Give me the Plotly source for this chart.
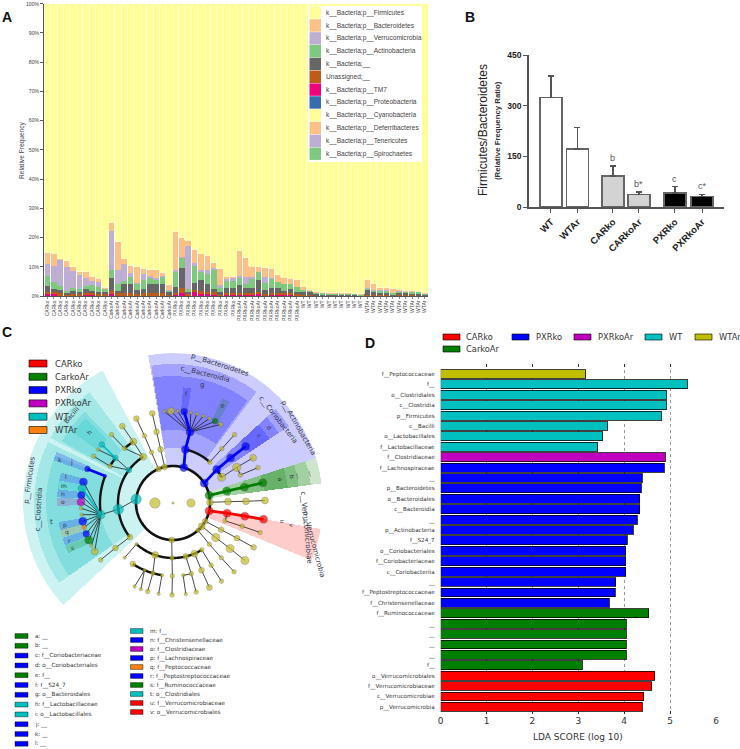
import numpy as np
import plotly.graph_objects as go

W_PX, H_PX = 740, 749
def fx(p): return p / W_PX
def fy(p): return 1 - p / H_PX

# ---------- Panel A data: cumulative tops of stacked phyla (%) ----------
groups = ["CARko", "CarkoAr", "PXRko", "PXRkoAr", "WT", "WTAr"]
sample_labels = [g for g in groups for _ in range(10)]
tm7_top = [.6,.8,.4,.2,.2,.1,.6,.5,.2,.1, .6,.4,.1,.1,.1,.4,.1,.1,.1,.1, .7,1.0,.2,1.3,.7,.8,.7,.2,.7,.7,
           .7,.6,.7,.9,.3,.5,.5,.5,.5,.3, .1,.1,0,0,0,0,0,0,0,0, .2,.1,.1,.1,0,0,0,0,0,0]
unassigned_top = [1.3,1.4,.9,.6,.8,.7,.9,.9,.7,.6, 1.8,1.0,.9,.9,.7,.9,.9,.9,1.1,.3, 1.0,2.7,.8,2.1,1.8,1.3,1.2,.7,1.0,1.0,
                  1.1,1.1,1.1,1.5,.8,1.0,1.1,.9,1.0,.7, .4,.3,.2,.1,.1,.1,.1,.1,.1,.1, .5,.3,.2,.2,.1,.2,.2,.2,.1,.1]
bacteria_top = [3.4,2.5,2.0,1.1,1.8,1.5,2.4,1.8,1.4,1.3, 6.1,1.8,4.2,4.2,2.2,2.4,4.2,4.2,4.2,1.2, 3.2,9.6,1.4,4.3,5.5,4.1,2.3,1.3,2.9,2.9,
                3.8,2.6,2.6,5.5,2.0,2.6,2.6,1.7,2.5,1.5, 1.4,1.2,.7,.6,.6,.6,.5,.5,.5,.4, 2.3,1.3,1.0,1.0,.7,1.1,1.0,.9,.6,.6]
actino_top = [6.8,4.9,3.5,1.8,2.9,2.5,3.5,3.6,3.1,2.6, 9.0,4.0,5.3,6.6,4.5,5.5,6.4,5.6,6.7,1.9, 8.6,13.3,2.4,10.3,8.3,7.6,9.2,3.0,5.0,5.2,
              6.6,4.1,5.7,8.3,4.6,6.0,4.7,4.0,4.2,3.0, 2.2,1.9,1.4,1.2,1.1,1.1,1.0,1.0,.9,.6, 2.7,2.0,1.9,2.0,.9,1.8,1.7,1.5,1.5,1.0]
verruco_top = [10.8,10.4,12.7,10.0,8.7,7.3,6.3,5.2,4.9,2.8, 22.2,9.0,10.9,8.0,4.6,7.6,6.7,6.0,7.0,2.0, 9.0,13.4,17.1,11.3,9.0,8.8,9.7,3.6,6.2,6.3,
               6.7,6.6,6.6,8.3,6.6,6.2,4.7,4.0,4.2,3.0, 2.2,1.9,1.4,1.2,1.1,1.1,1.0,1.0,.9,.6, 2.8,2.1,2.0,2.1,.9,1.9,1.8,1.6,1.6,1.0]
bacteroid_top = [14.9,14.7,12.8,12.0,10.0,8.3,8.3,6.8,6.0,3.0, 25.3,18.5,12.8,10.3,10.0,9.5,8.9,8.9,8.2,3.9, 22.2,20.0,19.0,16.0,14.6,13.8,11.4,9.4,6.8,6.8,
                 15.5,13.1,10.1,10.0,9.6,9.5,7.2,6.4,6.0,5.7, 3.4,2.3,1.5,1.3,1.2,1.2,1.1,1.1,1.0,.7, 5.8,4.3,2.9,2.9,2.7,2.3,2.0,2.0,1.7,1.1]
stack_names = ["k__Bacteria;p__TM7", "Unassigned;__", "k__Bacteria;__", "k__Bacteria;p__Actinobacteria",
               "k__Bacteria;p__Verrucomicrobia", "k__Bacteria;p__Bacteroidetes"]
stack_colors = ["#f0027f", "#bf5b17", "#666666", "#7fc97f", "#beaed4", "#fdc086"]
legend_a_labels = ["k__Bacteria;p__Firmicutes", "k__Bacteria;p__Bacteroidetes", "k__Bacteria;p__Verrucomicrobia",
                   "k__Bacteria;p__Actinobacteria", "k__Bacteria;__", "Unassigned;__", "k__Bacteria;p__TM7",
                   "k__Bacteria;p__Proteobacteria", "k__Bacteria;p__Cyanobacteria", "k__Bacteria;p__Deferribacteres",
                   "k__Bacteria;p__Tenericutes", "k__Bacteria;p__Spirochaetes"]
legend_a_colors = ["#ffff99", "#fdc086", "#beaed4", "#7fc97f", "#666666", "#bf5b17", "#f0027f", "#386cb0",
                   "#ffff99", "#fdc086", "#beaed4", "#7fc97f"]

# ---------- Panel B data ----------
ratio_names = ["WT", "WTAr", "CARko", "CARkoAr", "PXRko", "PXRkoAr"]
ratio_mean = [324, 171, 92, 37.5, 42, 30.6]
ratio_top = [388, 235, 122, 45, 60, 37.5]
ratio_slot = [0, 1, 2.34, 3.32, 4.68, 5.7]
ratio_fill = ["white", "white", "#d3d3d3", "#d3d3d3", "black", "black"]
ratio_marks = ["", "", "b", "b*", "c", "c*"]

# ---------- Panel D data ----------
lda_names = ["f__Peptococcaceae","f__","o__Clostridiales","c__Clostridia","p__Firmicutes","c__Bacilli","o__Lactobacillales",
 "f__Lactobacillaceae","f__Clostridiaceae","f__Lachnospiraceae","__","p__Bacteroidetes","o__Bacteroidales","c__Bacteroidia","__",
 "p__Actinobacteria","f__S24_7","o__Coriobacteriales","f__Coriobacteriaceae","c__Coriobacteriia","__","f__Peptostreptococcaceae",
 "f__Christensenellaceae","f__Ruminococcaceae","__","__","__","__","f__","o__Verrucomicrobiales","f__Verrucomicrobiaceae",
 "c__Verrucomicrobiae","p__Verrucomicrobia"]
lda_values = [3.16,5.37,4.92,4.92,4.81,3.64,3.53,3.42,4.89,4.87,4.39,4.37,4.34,4.34,4.28,4.2,4.07,4.03,4.03,4.03,3.82,3.8,3.67,
 4.53,4.04,4.04,4.04,4.04,3.09,4.66,4.6,4.42,4.39]
lda_group = ["Y"]+["W"]*7+["M"]+["P"]*14+["G"]*6+["R"]*4
clade_color = {"R":"#ff0000","G":"#007f00","P":"#0000ff","M":"#bf00bf","W":"#00bfbf","O":"#ff7f0e","Y":"#bfbf00"}
node_color = dict(clade_color, Y="#c4bc28")

# ---------- Panel C data: cladogram (theta in degrees, one list per ring) ----------
ring_radius = [18, 37, 55, 73, 92]
r0_theta = [180, 0]; r0_size = [9, 7]; r0_clade = "YY"
r1_theta = [174.2,113,103,73,32.4,11.9,1,-12.4,-29.3,-38.9,-47.5,268]
r1_size = [9,5,5,7,7,7,6,7,5,6,4,5]
r1_clade = "WYYPPGYRYYYY"
r2_theta = [186.6,143.2,123,218.2,113,103,77,48,37.4,27.8,12.5,1.4,-10.7,-18.9,-29,-39,-48.6,-58.4,-67,-76.5,269,251,228.4]
r2_size = [9,5,6,5,4,5,7,4,7,7,7,6,7,4,5,7,4,4,6,5,4,6,3]
r2_clade = "WWYYYYPYPYGYRYYYYYYYYYY"
r2_parent = [174.2,None,None,None,113,103,73,None,32.4,None,11.9,1,-12.4,None,-29.3,-38.9,-47.5,None,None,None,268,None,None]
r3_theta = [189.2,158.3,142,149.6,131.5,122.9,113,103,218,76.5,48,38,29.2,22.6,12.5,1.3,-10.4,-18.6,-28.8,-38.6,-48.6,-58.5,-67,-75.5,-82,269.5,261.3,254,247,236.6,228.5]
r3_size = [7,3,5,4,4,6,4,5,5,7,4,7,7,4,7,6,7,4,5,7,4,4,5,4,3,4,3,4,3,5,3]
r3_clade = "WPWYYYYYYPYPYYGYRYYYYYYYYYYYYYY"
r3_parent = [186.6,None,143.2,143.2,123,123,113,103,218.2,77,48,37.4,27.8,None,12.5,1.4,-10.7,-18.9,-29,-39,-48.6,-58.4,-67,-76.5,None,269,None,251,None,None,228.4]
r4_theta = [158.3,166.8,171,175.2,179.4,183.3,187.3,191.5,195.3,199.5,203.7,207.6,211.7,218.2,140.6,144.5,149.5,132,123.4,113.4,103,
            95.4,91.2,87,83,78.9,75,70.8,66.7,62.8,58.7,48,37.9,29.4,22.6,12.7,1.6,-10.2,-18.7,-28.8,-38.6,-48.4,-58.2,-66.7,-75.4,-82,269.4,261,254,249.6,245.3,236.8,228.2]
r4_size = [5,7,7,6.5,7,3,3,7,4,6,7,3,6,4,5,3,4,4,5,5,5,3,6,3,6,3,3,3,3,5,4,4,7,6,4,7,6,7,4,5,7,4,4,5,4,3,4,3,4,3,3,5,3]
r4_clade = "PPWPMYYPOPGYYYWYYYYYYYYYPYYYYGYYPYYGYRYYYYYYYYYYYYY"
r4_parent = [158.3]+[189.2]*12+[218,142,142,149.6,131.5,122.9,113,103]+[76.5]*10+[48,38,29.2,22.6,12.5,1.3,-10.4,-18.6,-28.8,-38.6,-48.6,-58.5,-67,-75.5,-82,269.5,261.3,254,247,247,236.6,228.5]
arc_ring = [2,2,2,2,3,3,3,3]
arc_start = [123,48,27.8,228.4,122.9,158.3,236.6,142]
arc_end = [218.2,77,37.4,301.6,131.5,189.2,261.3,149.6]
thin_arc_ring = [2,3,3]
thin_arc_start = [-18.9,22.6,-82]
thin_arc_end = [-10.7,29.2,-75.5]
wedge_start = [118,127,154,134,136,158, 43,53,54, 17.5,33.5,33.5,33.5, 7.5,7.5,7.5,7.5, -22.5,
               156.3,164.8,169,173.2,177.4,189.5,193.3,197.5,201.7, 81,60.8, 156.3, 60.8]
wedge_end = [223,152,215,151,145,215, 99.5,99,99, 43,42.5,42.5,42.5, 17.5,17.5,17.5,17.5, -10,
             160.3,168.8,173,177.2,181.4,193.5,197.3,201.5,205.7, 85,64.8, 160.3, 64.8]
wedge_inner = [37,55,55,73,92,73, 37,55,73, 37,55,73,92, 37,55,73,92, 37,
               92,92,92,92,92,92,92,92,92, 92,92, 116, 116]
wedge_outer = [150,139,139,127,122,127, 150,139,127, 150,139,127,116, 150,139,127,116, 150,
               116,116,116,116,116,116,116,116,116, 116,116, 127, 116]
wedge_clade = list("WWWWWW"+"PPP"+"PPPP"+"GGGG"+"R"+"PPWPMPOPG"+"PG"+"P"+"G")
wedge_labels = [("p__Firmicutes",145,171,-82,7),("c__Clostridia",134,182.7,-87,7),("Bacilli",134,139,-50,6.5),("t",123,188.7,0,7),
 ("h",110,140,-50,6),("k",121,158.9,0,6),("j",110,158,0,6),("l",110,165.8,0,6),("m",110,171,0,6),("n",110,175,0,6),("o",110,179.3,0,6),
 ("p",110,191.6,0,6),("q",110,195.3,0,6),("r",110,199.8,0,6),("s",110,203.8,0,6),
 ("p__Bacteroidetes",146,71.2,18,7),("c__Bacteroidia",133,76.1,14,7),("g",121,76.3,0,7),("f",110,83,0,6),("e",110,62.7,25,6),
 ("p__Actinobacteria",146,30.8,60,7),("c__Coriobacteria",134,38.2,52,7),("d",122,38,50,6),("c",110,38,50,6),
 ("a",110.5,12.4,78,6),("b",122,12.4,78,6),("__",130,12.3,78,6),("__",143,12.2,78,6),("u",111,-9.8,100,6),("v",121,-10.6,100,6),
 ("c__Verrucomicrobiae",135,-10.4,85,7),("p__Verrucomicrobia",147,-16.6,75,7)]

legend_c_names = ["CARko","CarkoAr","PXRko","PXRkoAr","WT","WTAr"]
legend_c_keys = "RGPMWO"
key_col1 = ["a: __","b: __","c: f__Coriobacteriaceae","d: o__Coriobacteriales","e: f__","f: f__S24_7","g: o__Bacteroidales",
            "h: f__Lactobacillaceae","i: o__Lactobacillales","j: __","k: __","l: __"]
key_col1_c = "GGPPGPPWWPPP"
key_col2 = ["m: f__","n: f__Christensenellaceae","o: f__Clostridiaceae","p: f__Lachnospiraceae","q: f__Peptococcaceae",
            "r: f__Peptostreptococcaceae","s: f__Ruminococcaceae","t: o__Clostridiales","u: f__Verrucomicrobiaceae","v: o__Verrucomicrobiales"]
key_col2_c = "WPMPOPGWRR"

# ---------- Figure ----------
fig = go.Figure()
shapes, notes = [], []
def note(x, y, text, size, color="#333", family="DejaVu Sans", bold=False, angle=0, xa="left", ya="middle"):
    if bold: text = "<b>%s</b>" % text
    notes.append(dict(x=fx(x), y=fy(y), xref="paper", yref="paper", text=text, showarrow=False, textangle=angle,
                      xanchor=xa, yanchor=ya, font=dict(size=size, color=color, family=family), borderpad=0))
def rect(x0, y0, x1, y1, fill, line="rgba(0,0,0,0.6)", w=1, layer="above"):
    shapes.append(dict(type="rect", xref="paper", yref="paper", x0=fx(x0), x1=fx(x1), y0=fy(y0), y1=fy(y1),
                       fillcolor=fill, line=dict(color=line, width=w), layer=layer))

# Panel A
idx = list(range(len(sample_labels)))
tops = [tm7_top, unassigned_top, bacteria_top, actino_top, verruco_top, bacteroid_top]
prev = np.zeros(len(idx))
for name, col, t in zip(stack_names, stack_colors, tops):
    t = np.array(t, float)
    fig.add_bar(x=idx, y=np.maximum(t - prev, 0), marker=dict(color=col, line=dict(width=0)), width=0.88, name=name,
                xaxis="x", yaxis="y", showlegend=False)
    prev = np.maximum(t, prev)
fig.add_bar(x=idx, y=100 - prev, marker=dict(color="#ffff99", line=dict(width=0.8, color="#ffffd2")), width=1,
            name="k__Bacteria;p__Firmicutes", xaxis="x", yaxis="y", showlegend=False)

# Panel B
fig.add_bar(x=ratio_slot, y=ratio_mean, width=0.82, marker=dict(color=ratio_fill, line=dict(color="#666", width=1.5)),
            error_y=dict(type="data", symmetric=False, array=[t - m for t, m in zip(ratio_top, ratio_mean)],
                         arrayminus=[0]*6, color="#555", thickness=1.5, width=3),
            xaxis="x2", yaxis="y2", showlegend=False)
for s, t, m in zip(ratio_slot, ratio_top, ratio_marks):
    if m:
        notes.append(dict(x=s, y=t, xref="x2", yref="y2", text=m, showarrow=False, yanchor="bottom", yshift=1,
                          font=dict(size=9, color="#555", family="Liberation Sans")))

# Panel D
fig.add_bar(y=list(range(len(lda_values))), x=lda_values, orientation="h", width=0.85,
            marker=dict(color=[clade_color[g] for g in lda_group], line=dict(color="rgba(0,0,0,0.75)", width=1)),
            xaxis="x3", yaxis="y3", showlegend=False)

# Panel C: wedges (alpha-layered annular sectors)
for s, e, i, o, c in zip(wedge_start, wedge_end, wedge_inner, wedge_outer, wedge_clade):
    fig.add_trace(go.Barpolar(theta=[(s + e) / 2], width=[e - s], base=[i], r=[o - i],
                              marker=dict(color=clade_color[c], opacity=0.2, line=dict(width=0)), showlegend=False))

# Panel C: nodes and edges
rings = [(r1_theta, r1_size, r1_clade, [None]*12, r0_theta),
         (r2_theta, r2_size, r2_clade, r2_parent, r1_theta),
         (r3_theta, r3_size, r3_clade, r3_parent, r2_theta),
         (r4_theta, r4_size, r4_clade, r4_parent, r3_theta)]
parent_clade = {1: r1_clade, 2: r2_clade, 3: r3_clade}
ths, rs, szs, cols = [0] + list(r0_theta), [0] + [ring_radius[0]]*2, [2] + list(r0_size), ["Y"] + list(r0_clade)
edges = {}
for k, (thetas, sizes, clades, parents, up) in enumerate(rings, start=1):
    for th, sz, cl, par in zip(thetas, sizes, clades, parents):
        ths.append(th); rs.append(ring_radius[k]); szs.append(sz); cols.append(cl)
        if par is None: continue
        j = int(np.argmin(np.abs(np.array(up, float) - par)))
        pc = parent_clade[k-1][j] if k > 1 else "Y"
        if cl == pc and cl in "PGR":
            key = (clade_color[cl], 2.8)
        elif cl == pc and cl == "W" and k == 4:
            key = (clade_color[cl], 1.8)
        else:
            key = ("rgba(30,30,30,0.8)", 1)
        edges.setdefault(key, ([], []))
        edges[key][0].extend([ring_radius[k-1], ring_radius[k], None])
        edges[key][1].extend([up[j], th, None])

def arc_trace(ring, a, b, w):
    t = np.linspace(a, b, max(4, int(abs(b - a) * 2)))
    fig.add_trace(go.Scatterpolar(r=[ring_radius[ring]]*len(t), theta=t, mode="lines", line=dict(color="#111", width=w),
                                  showlegend=False, hoverinfo="skip"))
arc_trace(1, 0, 360, 2.6)
for rg, a, b in zip(arc_ring, arc_start, arc_end): arc_trace(rg, a, b, 2.4)
for rg, a, b in zip(thin_arc_ring, thin_arc_start, thin_arc_end): arc_trace(rg, a, b, 1)
for (col, w), (er, et) in edges.items():
    fig.add_trace(go.Scatterpolar(r=er, theta=et, mode="lines", line=dict(color=col, width=w), showlegend=False, hoverinfo="skip"))
fig.add_trace(go.Scatterpolar(r=rs, theta=ths, mode="markers", showlegend=False, hoverinfo="skip",
                              marker=dict(size=[s * 1.15 for s in szs], color=[node_color[c] for c in cols], line=dict(color="rgba(40,40,40,.6)", width=0.5))))

CX, CY, R = 173, 503, 150
for txt, r, th, rot, sz in wedge_labels:
    note(CX + r*np.cos(np.radians(th)), CY - r*np.sin(np.radians(th)), txt, sz, color="#334", angle=rot, xa="center")

# Panel A legend
rect(308, 6, 422, 162, "white", line="white", w=0)
for i, (lab, col) in enumerate(zip(legend_a_labels, legend_a_colors)):
    yc = 12.7 + 12.82*i
    rect(309.5, yc - 6.2, 321, yc + 6.2, col, line=col, w=0)
    note(325, yc, lab, 6.6, color="#444", family="Liberation Sans")

# Panel C top legend
for i, (lab, k) in enumerate(zip(legend_c_names, legend_c_keys)):
    yc = 363.5 + 13.3*i
    rect(29, yc - 3.5, 47, yc + 3.5, clade_color[k])
    note(54, yc, lab, 8.5, color="#333")
# Panel C key
for i, (lab, k) in enumerate(zip(key_col1, key_col1_c)):
    yc = 636 + 9.8*i
    rect(15, yc - 2.4, 28, yc + 2.4, clade_color[k], w=0.7)
    note(33.7, yc, lab, 5.7, color="#333")
for i, (lab, k) in enumerate(zip(key_col2, key_col2_c)):
    yc = 631 + 9*i
    rect(130.5, yc - 2.4, 143, yc + 2.4, clade_color[k], w=0.7)
    note(149, yc, lab, 5.7, color="#333")

# Panel D legend
d_leg = [("CARko","R",443,337),("CarkoAr","G",443,349),("PXRko","P",512,337),("PXRkoAr","M",574,337),("WT","W",645,337),("WTAr","Y",695,337)]
for lab, k, x, y in d_leg:
    rect(x, y - 3, x + 17, y + 3, clade_color[k])
    note(x + 22.5, y, lab, 8.3, color="#333")

# Panel letters and titles
for t, x, y in [("A", 1, 17), ("B", 464, 17), ("C", 1, 332), ("D", 364, 343)]:
    note(x, y, t, 14, color="#111", family="Liberation Sans", bold=True)
note(22, 150, "Relative Frequency", 6.6, color="#444", family="Liberation Sans", angle=-90, xa="center")
note(483, 130, "Firmicutes/Bacteroidetes", 12, color="#222", family="Liberation Sans", angle=-90, xa="center")
note(497, 131, "(Relative Frequency Ratio)", 7.8, color="#333", family="Liberation Sans", bold=True, angle=-90, xa="center")
note(578, 737, "LDA SCORE (log 10)", 9, color="#333", xa="center")

fig.update_layout(
    template="none",
    width=W_PX, height=H_PX, margin=dict(l=0, r=0, t=0, b=0), paper_bgcolor="white", plot_bgcolor="white",
    barmode="stack", shapes=shapes, annotations=notes, hovermode=False,
    xaxis=dict(domain=[fx(44.3), fx(428)], range=[-0.5, 59.5], tickmode="array", tickvals=idx, ticktext=sample_labels, tickangle=-90,
               tickfont=dict(size=5, color="#444", family="Liberation Sans"), ticks="outside", ticklen=1.5, tickcolor="#888",
               showgrid=False, zeroline=False, showline=True, linecolor="#555", automargin=False),
    yaxis=dict(domain=[fy(296), fy(3.7)], range=[0, 100], tickvals=list(range(0, 101, 10)), ticktext=["%d%%" % v for v in range(0, 101, 10)],
               tickfont=dict(size=5.2, color="#444", family="Liberation Sans"), ticks="outside", ticklen=3, tickcolor="#555",
               showgrid=False, zeroline=False, showline=True, linecolor="#555", linewidth=1.2, automargin=False),
    xaxis2=dict(domain=[fx(529), fx(724)], range=[-0.83, 6.53], tickmode="array", tickvals=ratio_slot, ticktext=["<b>%s</b>" % n for n in ratio_names],
                tickangle=-45, tickfont=dict(size=9.5, color="#222", family="Liberation Sans"), ticks="outside", ticklen=4, tickcolor="#555", tickwidth=1.2,
                showgrid=False, zeroline=False, showline=True, linecolor="#555", linewidth=1.5, anchor="y2", automargin=False),
    yaxis2=dict(domain=[fy(207), fy(55)], range=[0, 450], tickvals=[0, 150, 300, 450], ticktext=["<b>%d</b>" % v for v in [0, 150, 300, 450]],
                tickfont=dict(size=8.5, color="#222", family="Liberation Sans"), ticks="outside", ticklen=4, tickcolor="#555", tickwidth=1.2,
                showgrid=False, zeroline=False, showline=True, linecolor="#555", linewidth=1.5, anchor="x2", automargin=False),
    xaxis3=dict(domain=[fx(440.7), fx(716)], range=[0, 6], tickvals=list(range(7)), tickfont=dict(size=9, color="#333", family="DejaVu Sans"),
                ticks="inside", ticklen=3, tickcolor="#333", mirror="ticks", showline=False, zeroline=False,
                showgrid=True, gridcolor="#999", griddash="dot", gridwidth=1, layer="above traces", anchor="y3", automargin=False),
    yaxis3=dict(domain=[fy(713.7), fy(364)], range=[32.66, -0.96], tickmode="array", tickvals=list(range(len(lda_names))), ticktext=lda_names,
                tickfont=dict(size=5.6, color="#333", family="DejaVu Sans"), ticks="outside", ticklen=4, tickcolor="rgba(0,0,0,0)",
                showgrid=False, zeroline=False, showline=False, anchor="x3", automargin=False),
    polar=dict(domain=dict(x=[fx(CX - R), fx(CX + R)], y=[fy(CY + R), fy(CY - R)]), bgcolor="rgba(0,0,0,0)", barmode="overlay",
               radialaxis=dict(visible=False, range=[0, R]), angularaxis=dict(visible=False, rotation=0, direction="counterclockwise")),
)
fig.write_html("out.html", config=dict(displayModeBar=False),
               post_script="document.body.style.margin='0';document.body.style.overflow='hidden';")
